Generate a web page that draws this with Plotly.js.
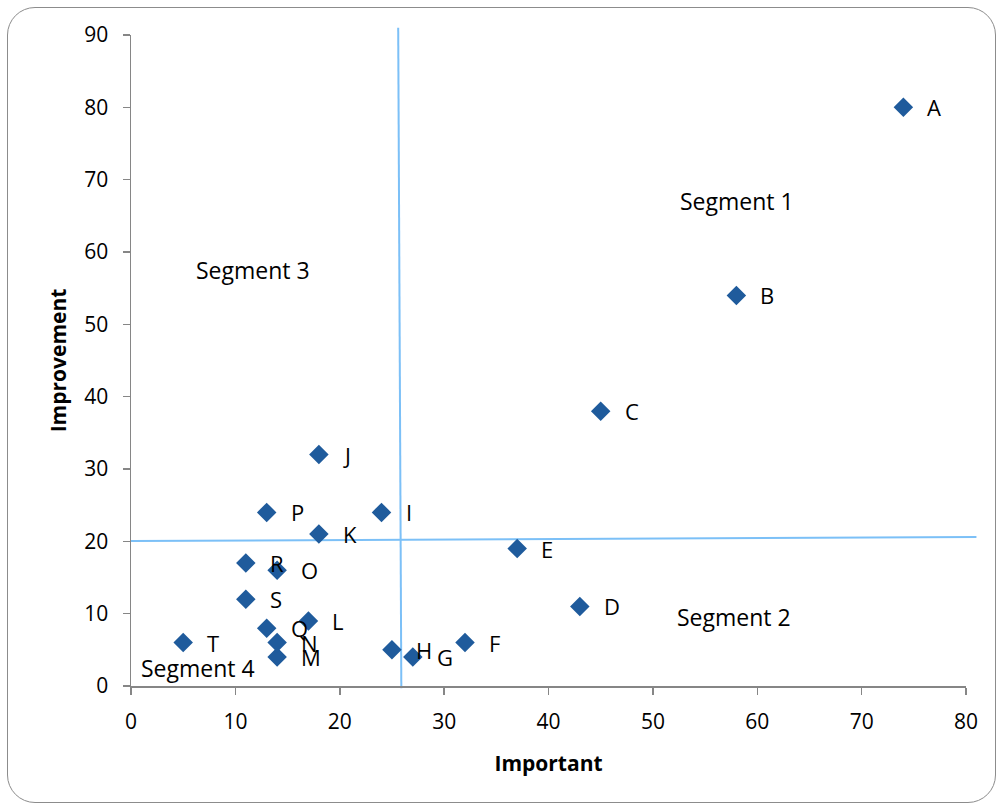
<!DOCTYPE html>
<html>
<head>
<meta charset="utf-8">
<script src="https://cdn.plot.ly/plotly-3.0.1.min.js"></script>
<style>
html,body{margin:0;padding:0;background:#fff;}
#frame{position:absolute;left:7px;top:7px;width:989px;height:796px;border:1.5px solid #8c8c8c;border-radius:28px;box-sizing:border-box;}
#chart{position:absolute;left:0;top:0;width:1001px;height:808px;}
</style>
</head>
<body>
<div id="frame"></div>
<div id="chart"></div>
<script>
// Data
var labels = ["A","B","C","D","E","F","G","H","I","J","K","L","M","N","O","P","Q","R","S","T"];
var important = [74,58,45,43,37,32,27,25,24,18,18,17,14,14,14,13,13,11,11,5];
var improvement = [80,54,38,11,19,6,4,5,24,32,21,9,4,6,16,24,8,17,12,6];

var segmentNames = ["Segment 1","Segment 2","Segment 3","Segment 4"];
var segmentX = [58.1,57.8,11.7,6.4];
var segmentY = [67,9.5,57.5,2.5];

// Divider lines (data units)
var vLineX = [25.6,25.9];
var vLineY = [91,-0.3];
var hLineX = [0,81];
var hLineY = [20.05,20.6];

var xMax = 80, yMax = 90;
var font = "'Open Sans', 'Liberation Sans', sans-serif";
var tickSize = 21, textSize = 23, titleSize = 21;

var trace = {
  x: important, y: improvement, type: 'scatter', mode: 'markers',
  marker: {symbol: 'diamond', size: 15, color: '#1f5b9c'},
  hoverinfo: 'skip', cliponaxis: false
};

var annotations = labels.map(function(l,i){
  return {x: important[i], y: improvement[i], text: l, showarrow: false,
    xanchor: 'left', yanchor: 'middle', xshift: 22,
    font: {family: font, size: textSize - 1, color: '#000'}};
});
segmentNames.forEach(function(s,i){
  annotations.push({x: segmentX[i], y: segmentY[i], text: s, showarrow: false,
    xanchor: 'center', yanchor: 'middle', font: {family: font, size: textSize, color: '#000'}});
});

var shapes = [
  {type: 'line', xref: 'x', yref: 'paper', x0: vLineX[0], x1: vLineX[1],
   y0: vLineY[0]/yMax, y1: vLineY[1]/yMax, line: {color: '#7cc0f7', width: 2}, layer: 'below'},
  {type: 'line', xref: 'paper', yref: 'y', x0: hLineX[0]/xMax, x1: hLineX[1]/xMax,
   y0: hLineY[0], y1: hLineY[1], line: {color: '#7cc0f7', width: 2}, layer: 'below'}
];

var layout = {
  width: 1001, height: 808,
  margin: {l: 131, r: 35, t: 35, b: 122},
  paper_bgcolor: 'rgba(0,0,0,0)', plot_bgcolor: 'rgba(0,0,0,0)',
  showlegend: false,
  font: {family: font, size: tickSize, color: '#000'},
  xaxis: {range: [0, xMax], dtick: 10, showgrid: false, zeroline: false,
    showline: true, linecolor: '#868686', linewidth: 1.5,
    ticks: 'outside', ticklen: 7, tickcolor: '#868686', tickwidth: 1.5,
    ticklabelstandoff: 9,
    tickfont: {family: font, size: tickSize, color: '#000'},
    title: {text: '<b>Important</b>', font: {family: font, size: titleSize, color: '#000'}, standoff: 22}},
  yaxis: {range: [0, yMax], dtick: 10, showgrid: false, zeroline: false,
    showline: true, linecolor: '#868686', linewidth: 1.5,
    ticks: 'outside', ticklen: 7, tickcolor: '#868686', tickwidth: 1.5,
    ticklabelstandoff: 10,
    tickfont: {family: font, size: tickSize, color: '#000'},
    title: {text: '<b>Improvement</b>', font: {family: font, size: titleSize, color: '#000'}, standoff: 12}},
  annotations: annotations,
  shapes: shapes
};

Plotly.newPlot('chart', [trace], layout, {displayModeBar: false, staticPlot: true});
</script>
</body>
</html>
